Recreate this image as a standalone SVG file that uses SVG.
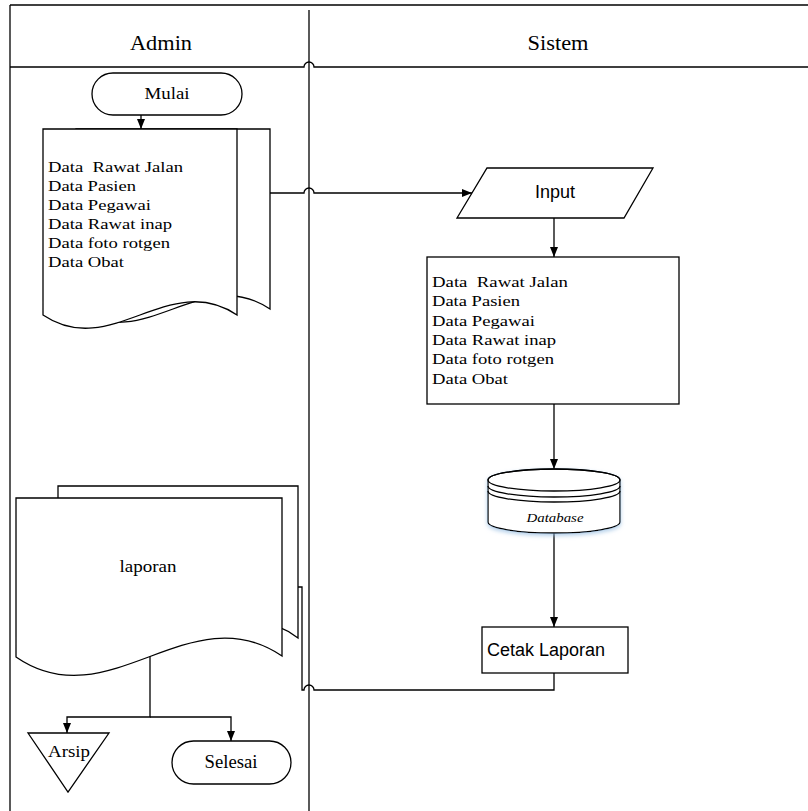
<svg xmlns="http://www.w3.org/2000/svg" width="808" height="811" viewBox="0 0 808 811">
<style>
.ln{fill:none;stroke:#000;stroke-width:1.3}
.sh{fill:#fff;stroke:#000;stroke-width:1.3}
.conn{fill:none;stroke:#000;stroke-width:1.3}
.tr{font-family:"Liberation Serif","Times New Roman",serif;fill:#000}
.ts{font-family:"Liberation Sans",Arial,sans-serif;fill:#000}
.pre{white-space:pre}
</style>
<defs>
<marker id="arr" markerUnits="userSpaceOnUse" markerWidth="10" markerHeight="8" refX="10" refY="4" orient="auto">
<path d="M0,0 L10,4 L0,8 Z" fill="#000"/>
</marker>
<filter id="glow" x="-20%" y="-20%" width="140%" height="160%">
<feDropShadow dx="0" dy="2" stdDeviation="2" flood-color="#8fb8e0" flood-opacity="0.7"/>
</filter>
</defs>
<rect width="808" height="811" fill="#fff"/>
<g id="frame">
<path class="ln" d="M10,5 H808"/>
<path class="ln" d="M10,5 V811"/>
<path class="ln" d="M309,10 V811"/>
<path class="ln" d="M10,67 H304 a5,5 0 0 1 10,0 H808"/>
<text class="tr" x="161" y="50" font-size="20" text-anchor="middle" textLength="62" lengthAdjust="spacingAndGlyphs">Admin</text>
<text class="tr" x="558" y="50" font-size="20" text-anchor="middle" textLength="61" lengthAdjust="spacingAndGlyphs">Sistem</text>
</g>
<g id="connectors">
<path class="conn" d="M141,115 V129" marker-end="url(#arr)"/>
<path class="conn" d="M270,193 H304 a5,5 0 0 1 10,0 H472" marker-end="url(#arr)"/>
<path class="conn" d="M554,218 V257" marker-end="url(#arr)"/>
<path class="conn" d="M554,404 V469" marker-end="url(#arr)"/>
<path class="conn" d="M554,533 V627" marker-end="url(#arr)"/>
<path class="conn" d="M554,673 V690 H314 a5,5 0 0 0 -10,0 H302 V587 H283" marker-end="url(#arr)"/>
<path class="conn" d="M150,656 V717 H67 V733" marker-end="url(#arr)"/>
<path class="conn" d="M150,717 H231 V741" marker-end="url(#arr)"/>
</g>
<g id="mulai">
<rect class="sh" x="92" y="73" width="150" height="42" rx="21" ry="21"/>
<text class="tr" x="167" y="99" font-size="16" text-anchor="middle" textLength="45" lengthAdjust="spacingAndGlyphs">Mulai</text>
</g>
<g id="dokumen-data">
<path class="sh" d="M76,129 H270 V309 C202,263 144,355 76,309 Z"/>
<path class="sh" d="M43,129 H237 V315 C169,269 111,361 43,315 Z"/>
<g class="tr" font-size="15">
<text class="pre" x="48" y="172" textLength="135" lengthAdjust="spacingAndGlyphs">Data  Rawat Jalan</text>
<text x="48" y="191" textLength="88" lengthAdjust="spacingAndGlyphs">Data Pasien</text>
<text x="48" y="210" textLength="103" lengthAdjust="spacingAndGlyphs">Data Pegawai</text>
<text x="48" y="229" textLength="124" lengthAdjust="spacingAndGlyphs">Data Rawat inap</text>
<text x="48" y="248" textLength="122" lengthAdjust="spacingAndGlyphs">Data foto rotgen</text>
<text x="48" y="267" textLength="76" lengthAdjust="spacingAndGlyphs">Data Obat</text>
</g>
</g>
<g id="input">
<path class="sh" d="M487,168 H653 L624,218 H457 Z"/>
<text class="ts" x="555" y="198" font-size="18" text-anchor="middle">Input</text>
</g>
<g id="proses-data">
<rect class="sh" x="427" y="257" width="252" height="147"/>
<g class="tr" font-size="15">
<text class="pre" x="432" y="287" textLength="136" lengthAdjust="spacingAndGlyphs">Data  Rawat Jalan</text>
<text x="432" y="306.3" textLength="88" lengthAdjust="spacingAndGlyphs">Data Pasien</text>
<text x="432" y="325.6" textLength="103" lengthAdjust="spacingAndGlyphs">Data Pegawai</text>
<text x="432" y="344.9" textLength="124" lengthAdjust="spacingAndGlyphs">Data Rawat inap</text>
<text x="432" y="364.2" textLength="122" lengthAdjust="spacingAndGlyphs">Data foto rotgen</text>
<text x="432" y="383.5" textLength="76" lengthAdjust="spacingAndGlyphs">Data Obat</text>
</g>
</g>
<g id="database">
<path class="sh" filter="url(#glow)" d="M488,480 A66,11 0 0 1 620,480 V522 A66,11 0 0 1 488,522 Z"/>
<ellipse class="ln" cx="554" cy="480" rx="66" ry="11"/>
<path class="ln" d="M488,486 A66,11 0 0 0 620,486"/>
<path class="ln" d="M488,491 A66,11 0 0 0 620,491"/>
<text class="tr" x="555" y="522" font-size="12" font-style="italic" text-anchor="middle" textLength="57" lengthAdjust="spacingAndGlyphs">Database</text>
</g>
<g id="cetak-laporan">
<rect class="sh" x="482" y="627" width="146" height="46"/>
<text class="ts" x="487" y="656" font-size="18">Cetak Laporan</text>
</g>
<g id="laporan">
<path class="sh" d="M58,486 H298 V638 C214,575 142,703 58,639 Z"/>
<path class="sh" d="M16,498 H282 V656 C189,593 109,721 16,657 Z"/>
<text class="tr" x="148" y="572" font-size="17" text-anchor="middle" textLength="57" lengthAdjust="spacingAndGlyphs">laporan</text>
</g>
<g id="arsip">
<path class="sh" d="M28,733 H109 L68,792 Z"/>
<text class="tr" x="69" y="757" font-size="17" text-anchor="middle" textLength="42" lengthAdjust="spacingAndGlyphs">Arsip</text>
</g>
<g id="selesai">
<rect class="sh" x="172" y="741" width="119" height="43" rx="21.5" ry="21.5"/>
<text class="tr" x="231" y="768" font-size="18" text-anchor="middle" textLength="53" lengthAdjust="spacingAndGlyphs">Selesai</text>
</g>
</svg>
